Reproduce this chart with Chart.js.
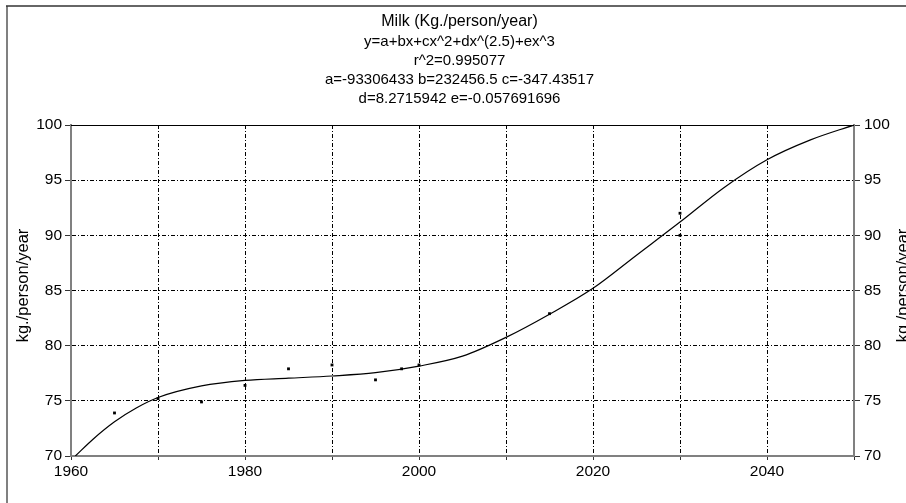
<html>
  <head>
    <title>Milk (Kg./person/year)</title>
    <style>
      body {
        margin: 0;
        background: #fff;
      }
      #wrap {
        position: relative;
        width: 906px;
        height: 503px;
      }
    </style>
  </head>
  <body>
    <div id="wrap"><canvas id="myChart" width="906" height="503"></canvas></div>
    <script src="https://cdn.jsdelivr.net/npm/chart.js@4/dist/chart.umd.min.js"></script>
    <script>
      // fitted curve
      const fitYears = [1960.5, 1962.5, 1965, 1967.5, 1970, 1975, 1980, 1985, 1990, 1995, 2000, 2005, 2010, 2015, 2020, 2025, 2030, 2035, 2040, 2045, 2050];
      const fitValues = [70.0, 71.5, 73.1, 74.35, 75.3, 76.35, 76.85, 77.05, 77.25, 77.55, 78.15, 79.05, 80.75, 82.85, 85.2, 88.2, 91.2, 94.3, 96.85, 98.65, 100];

      // observed values
      const obsYears = [1965, 1970, 1975, 1980, 1985, 1990, 1995, 1998, 2000, 2015, 2030, 2030];
      const obsValues = [73.9, 75.2, 74.9, 76.4, 77.9, 78.25, 76.9, 77.9, 78.25, 82.9, 92, 90];

      const titleLines = [
        'Milk (Kg./person/year)',
        'y=a+bx+cx^2+dx^(2.5)+ex^3',
        'r^2=0.995077',
        'a=-93306433 b=232456.5 c=-347.43517',
        'd=8.2715942 e=-0.057691696'
      ];
      const axisTitle = 'kg./person/year';
      const xMin = 1960, xMax = 2050, yMin = 70, yMax = 100;

      const font = 'Liberation Sans, Arial, sans-serif';

      const framePlugin = {
        id: 'frame',
        afterDraw(chart) {
          const ctx = chart.ctx;
          const area = chart.chartArea;
          ctx.save();
          // outer frame
          ctx.strokeStyle = '#808080';
          ctx.lineWidth = 2;
          ctx.beginPath();
          ctx.moveTo(7, 503);
          ctx.lineTo(7, 6);
          ctx.stroke();
          ctx.strokeStyle = '#333';
          ctx.lineWidth = 1.5;
          ctx.beginPath();
          ctx.moveTo(6, 6);
          ctx.lineTo(906, 6);
          ctx.stroke();
          // top edge of plot
          ctx.strokeStyle = '#000';
          ctx.lineWidth = 1;
          ctx.beginPath();
          ctx.moveTo(area.left, area.top + 0.5);
          ctx.lineTo(area.right, area.top + 0.5);
          ctx.stroke();
          // titles
          ctx.fillStyle = '#000';
          ctx.textAlign = 'center';
          ctx.textBaseline = 'middle';
          const ys = [22, 42, 61, 80, 99];
          const cx = (area.left + area.right) / 2 - 3;
          titleLines.forEach((t, i) => {
            ctx.font = (i === 0 ? '16px ' : '15px ') + font;
            ctx.fillText(t, cx, ys[i]);
          });
          // axis titles
          ctx.font = '16.5px ' + font;
          const midY = (area.top + area.bottom) / 2 - 5;
          [23, 903].forEach(x => {
            ctx.save();
            ctx.translate(x, midY);
            ctx.rotate(-Math.PI / 2);
            ctx.fillText(axisTitle, 0, 0);
            ctx.restore();
          });
          ctx.restore();
        }
      };

      const gridDash = [4, 2, 1, 2];

      new Chart(document.getElementById('myChart'), {
        type: 'scatter',
        data: {
          datasets: [
            {
              type: 'line',
              data: fitYears.map((x, i) => ({ x: x, y: fitValues[i] })),
              borderColor: '#000',
              borderWidth: 1.2,
              pointRadius: 0,
              cubicInterpolationMode: 'monotone',
              fill: false
            },
            {
              data: obsYears.map((x, i) => ({ x: x, y: obsValues[i] })),
              backgroundColor: '#000',
              borderColor: '#000',
              pointStyle: 'rect',
              pointRadius: 2,
              borderWidth: 0
            }
          ]
        },
        options: {
          responsive: false,
          animation: false,
          layout: { padding: { top: 125, left: 0, right: 0, bottom: 0 } },
          plugins: {
            legend: { display: false },
            tooltip: { enabled: false }
          },
          scales: {
            x: {
              type: 'linear',
              min: xMin,
              max: xMax,
              afterFit: s => { s.height = 47; },
              ticks: {
                stepSize: 10,
                color: '#000',
                font: { family: font, size: 15.5 },
                padding: 2,
                maxRotation: 0,
                autoSkip: false,
                callback: v => (v % 20 === 0 && v < xMax ? String(v) : '')
              },
              grid: {
                color: '#000',
                lineWidth: 1,
                tickLength: 4,
                tickColor: '#333',
                tickBorderDash: []
              },
              border: { display: true, color: '#808080', width: 2, dash: gridDash }
            },
            y: {
              position: 'left',
              min: yMin,
              max: yMax,
              afterFit: s => { s.width = 71; },
              ticks: {
                stepSize: 5,
                color: '#000',
                font: { family: font, size: 15.5 },
                padding: 3
              },
              grid: {
                color: '#000',
                lineWidth: 1,
                tickLength: 6,
                tickColor: '#333',
                tickBorderDash: []
              },
              border: { display: true, color: '#808080', width: 2, dash: gridDash }
            },
            y2: {
              position: 'right',
              min: yMin,
              max: yMax,
              afterFit: s => { s.width = 52; },
              ticks: {
                stepSize: 5,
                color: '#000',
                font: { family: font, size: 15.5 },
                padding: 4
              },
              grid: {
                drawOnChartArea: false,
                tickLength: 6,
                tickColor: '#333'
              },
              border: { display: true, color: '#808080', width: 2 }
            }
          }
        },
        plugins: [framePlugin]
      });
    </script>
  </body>
</html>
